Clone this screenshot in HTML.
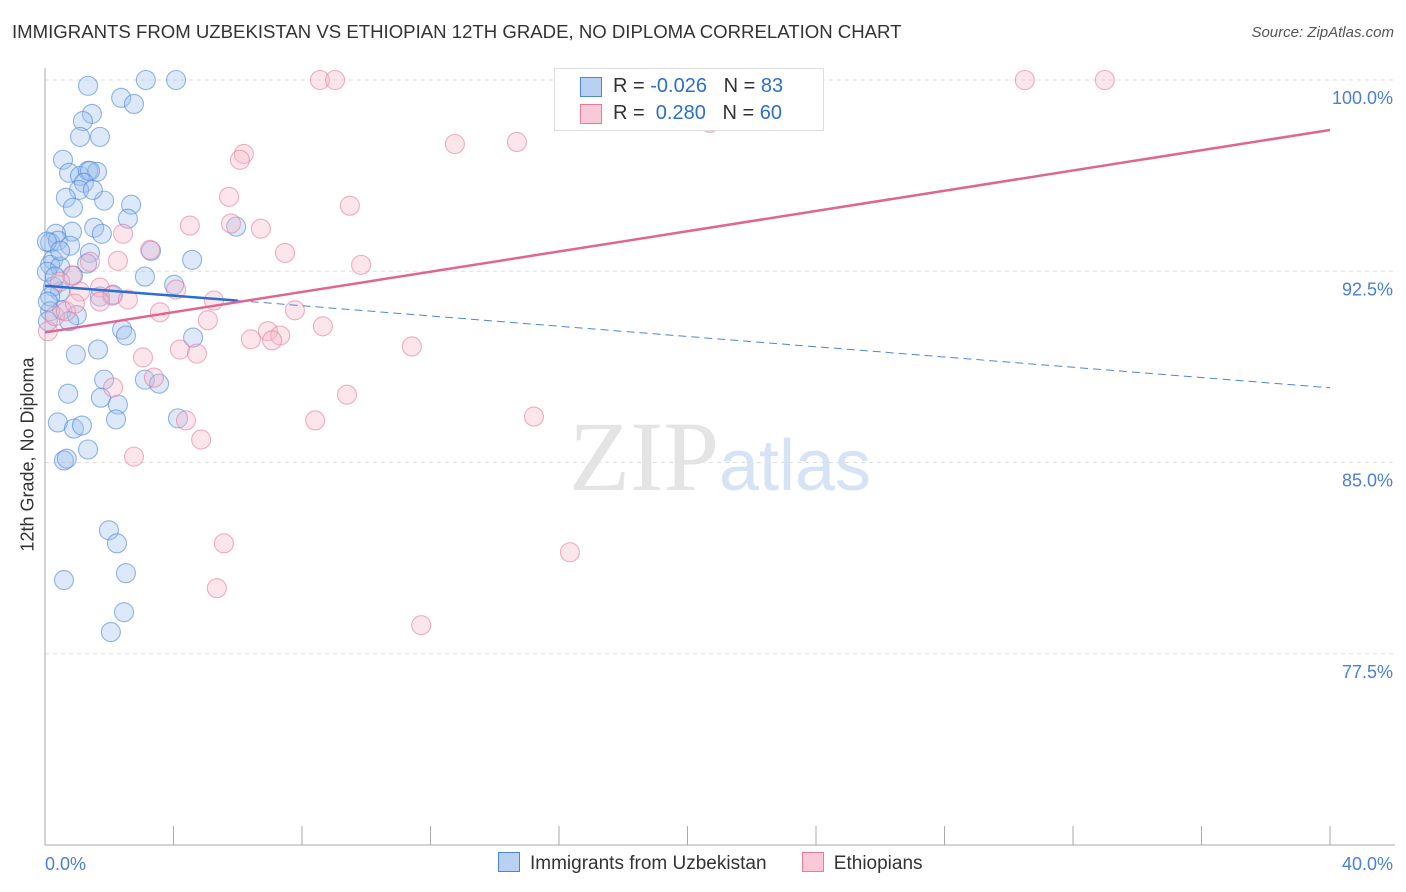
<!DOCTYPE html>
<html><head><meta charset="utf-8"><style>
body{margin:0;background:#fff;font-family:"Liberation Sans",sans-serif}
svg{display:block}
</style></head><body>
<svg id="c" width="1406" height="892"></svg>
<script>
const blueX=[1.34,3.14,4.08,2.37,2.77,1.46,1.18,1.09,1.71,0.56,0.75,1.09,1.34,1.62,1.40,1.21,1.06,0.65,0.87,1.84,2.68,2.58,1.53,1.77,0.84,0.34,0.16,0.40,0.78,1.40,3.30,0.25,0.16,0.47,0.87,1.31,3.11,4.58,4.02,5.95,0.47,0.25,0.53,0.99,0.75,0.16,1.71,2.12,2.40,2.52,4.61,1.65,0.96,3.11,3.55,1.84,0.72,1.74,2.27,2.21,0.40,0.90,1.15,1.34,0.59,0.68,4.14,1.99,2.24,2.52,0.59,2.46,2.05,0.16,0.09,0.09,0.06,0.06,0.31,0.47,1.49];
const blueY=[99.77,100,100,99.30,99.06,98.67,98.39,97.77,97.77,96.87,96.36,96.24,96.44,96.40,96.44,95.97,95.69,95.38,94.99,95.27,95.11,94.56,94.21,93.97,94.05,93.97,93.62,93.70,93.50,93.22,93.30,92.95,92.75,92.68,92.33,92.80,92.29,92.95,91.97,94.25,91.70,91.90,90.97,90.78,90.54,91.51,91.51,91.58,90.21,89.98,89.90,89.43,89.23,88.25,88.09,88.25,87.70,87.54,87.27,86.69,86.57,86.33,86.45,85.51,85.08,85.15,86.73,82.34,81.83,80.66,80.39,79.13,78.35,90.93,90.54,91.31,92.48,93.66,92.29,93.30,95.69];
const pinkX=[8.56,9.03,30.50,32.99,20.70,12.76,14.69,6.19,6.07,5.73,9.49,4.51,5.79,6.72,2.43,3.27,7.47,9.84,2.27,1.40,0.84,0.47,1.71,1.09,2.09,2.58,4.08,5.26,3.58,7.78,5.07,8.65,6.94,7.32,6.41,7.07,11.42,4.20,4.73,3.05,3.39,2.12,9.40,8.41,4.39,15.22,4.86,2.77,5.57,16.34,5.35,11.71,0.09,0.31,0.65,0.93,1.71];
const pinkY=[100,100,100,100,98.32,97.49,97.57,97.10,96.87,95.42,95.07,94.29,94.37,94.17,93.97,93.34,93.22,92.75,92.91,92.87,92.33,92.09,91.86,91.70,91.54,91.39,91.78,91.35,90.89,90.97,90.58,90.34,90.15,89.98,89.83,89.79,89.55,89.43,89.27,89.12,88.33,87.94,87.66,86.65,86.65,86.80,85.90,85.23,81.83,81.48,80.07,78.62,90.15,90.74,90.93,91.23,91.31];
const xTicks=[0,40];
const yTicks=[100,92.5,85,77.5];
const L=45,R=1330,T=80,B=845;
const sx=v=>L+(v/40)*(R-L);
const sy=v=>T+(100-v)/30*(B-T);
const svg=document.getElementById('c');
const NS='http://www.w3.org/2000/svg';
function mk(tag,attrs,parent){const e=document.createElementNS(NS,tag);for(const k in attrs)e.setAttribute(k,attrs[k]);(parent||svg).appendChild(e);return e;}
yTicks.forEach(t=>{const g=mk('line',{x1:L,x2:1395,y1:sy(t),y2:sy(t),stroke:'#ddd','stroke-dasharray':'4,4'});


const tx=mk('text',{x:1393,y:sy(t)+24,'text-anchor':'end','font-size':18,fill:'#4a7fd6'});tx.textContent=t.toFixed(1)+'%';

});
const ax=mk('line',{x1:L,x2:L,y1:68,y2:B,stroke:'#aaa'});
const bx=mk('line',{x1:L,x2:1395,y1:B,y2:B,stroke:'#aaa'});
for(let i=0;i<=10;i++){const x=L+i*(R-L)/10;const tk=mk('line',{x1:x,x2:x,y1:826,y2:B,stroke:'#aaa'});}
xTicks.forEach((t,i)=>{const tx=mk('text',{x:i?1393:45,y:870,'text-anchor':i?'end':'start','font-size':18,fill:'#4a7fd6'});tx.textContent=t.toFixed(1)+'%';

});
const wm=mk('text',{x:720,y:490,'text-anchor':'middle','font-size':100,'font-family':'Liberation Serif',fill:'#e4e4e4'});wm.innerHTML='ZIP<tspan font-family="Liberation Sans" font-size="72" fill="#d6e3f5">atlas</tspan>';

function pts(xs,ys,fill,stroke,name){xs.forEach((x,i)=>{const c=mk('circle',{cx:sx(x),cy:sy(ys[i]),r:9.5,fill:fill,'fill-opacity':0.35,stroke:stroke,'stroke-opacity':0.6,'stroke-width':1.1});

});}
pts(blueX,blueY,'#9ec0ef','#4a86dc','uzbekistan-point');
pts(pinkX,pinkY,'#f6b7c9','#e87a9c','ethiopian-point');
const bl=mk('line',{x1:sx(0),y1:sy(91.93),x2:sx(6),y2:sy(91.35),stroke:'#2a6fd0','stroke-width':2.5});
const bd=mk('line',{x1:sx(6),y1:sy(91.35),x2:sx(40),y2:sy(87.93),stroke:'#4a86dc','stroke-width':1,'stroke-dasharray':'8,5'});
const pl=mk('line',{x1:sx(0),y1:sy(90.1),x2:sx(40),y2:sy(98.04),stroke:'#e0668f','stroke-width':2.5});
</script>
<div style="position:absolute;left:12px;top:21px;font-size:18.6px;color:#333;white-space:nowrap">IMMIGRANTS FROM UZBEKISTAN VS ETHIOPIAN 12TH GRADE, NO DIPLOMA CORRELATION CHART</div>
<div style="position:absolute;right:12px;top:24px;font-size:15px;color:#555;font-style:italic">Source: ZipAtlas.com</div>
<div style="position:absolute;left:-82px;top:444px;width:220px;text-align:center;transform:rotate(-90deg);font-size:18px;color:#333;white-space:nowrap">12th Grade, No Diploma</div>
<div style="position:absolute;left:554px;top:68px;width:268px;height:61px;border:1px solid #ddd;background:#fff;font-size:20px;color:#333;white-space:nowrap">
<div style="position:absolute;left:25px;top:8px;width:20px;height:18px;background:#b8d1f3;border:1px solid #4a86dc"></div>
<div style="position:absolute;left:58px;top:6px">R = <span style="color:#2a6fd0">-0.026</span>&nbsp;&nbsp;&nbsp;N = <span style="color:#2a6fd0">83</span></div>
<div style="position:absolute;left:25px;top:35px;width:20px;height:18px;background:#f9c9d7;border:1px solid #e87a9c"></div>
<div style="position:absolute;left:58px;top:33px">R = &nbsp;<span style="color:#2a6fd0">0.280</span>&nbsp;&nbsp;&nbsp;N = <span style="color:#2a6fd0">60</span></div>
</div>
<div style="position:absolute;left:498px;top:852px;font-size:19px;color:#333;white-space:nowrap">
<span><span style="display:inline-block;width:20px;height:18px;background:#b8d1f3;border:1px solid #4a86dc;vertical-align:-3px;margin-right:10px"></span>Immigrants from Uzbekistan</span>
<span style="margin-left:30px"><span style="display:inline-block;width:20px;height:18px;background:#f9c9d7;border:1px solid #e87a9c;vertical-align:-3px;margin-right:10px"></span>Ethiopians</span>
</div>
</body></html>
